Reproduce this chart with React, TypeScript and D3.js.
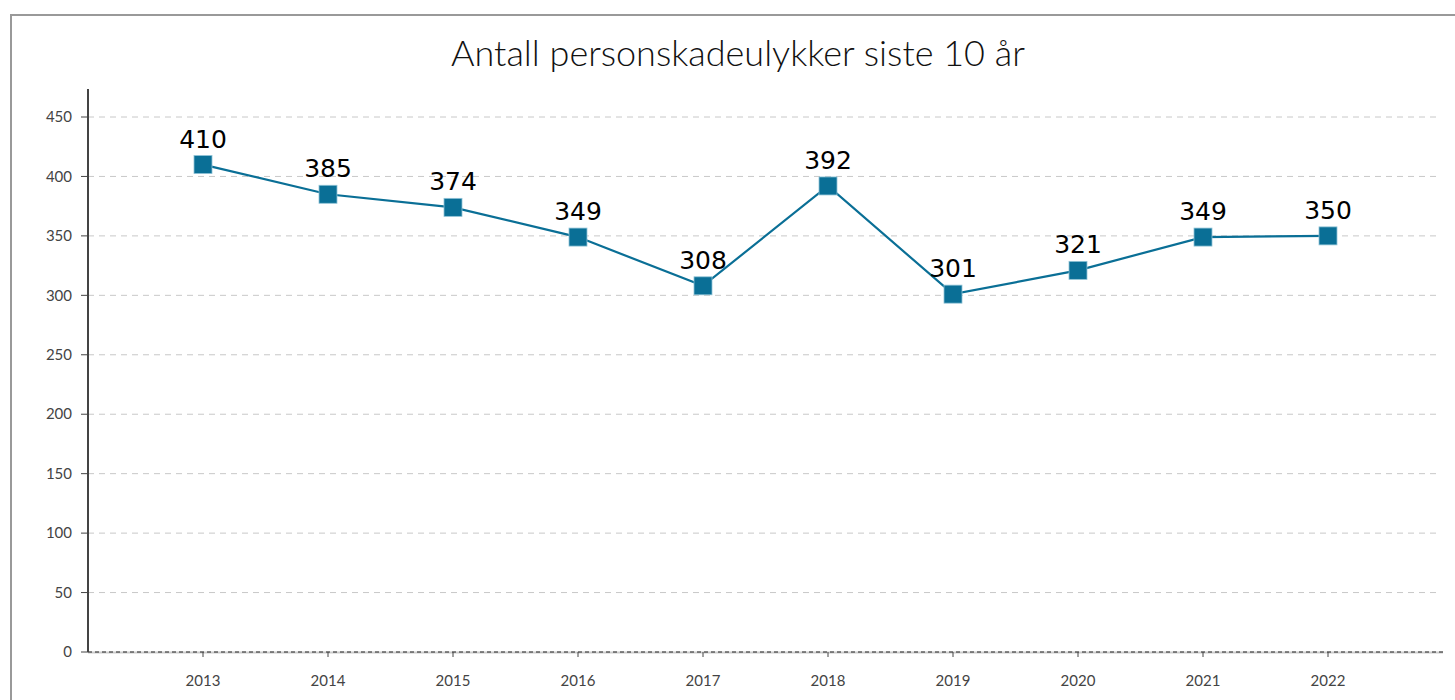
import React from "react";
import * as d3 from "d3";

const years = ["2013", "2014", "2015", "2016", "2017", "2018", "2019", "2020", "2021", "2022"];
const accidents = [410, 385, 374, 349, 308, 392, 301, 321, 349, 350];
const yTicks = [0, 50, 100, 150, 200, 250, 300, 350, 400, 450];
const title = "Antall personskadeulykker siste 10 år";

export default function App() {
  const W = 1455, H = 700;
  const left = 88, right = 1443, top = 89, bottom = 652;
  const x = d3.scalePoint<string>().domain(years).range([left, right]).padding(0.92);
  const y = d3.scaleLinear().domain([0, 450]).range([bottom, 117]);
  const line = d3.line<number>().x((_, i) => x(years[i])!).y((d) => y(d));
  const color = "#0a6f96";
  return (
    <svg width={W} height={H} style={{ position: "absolute", left: 0, top: 0, background: "#fff" }}>
      <rect x={11} y={15} width={1460} height={700} fill="#fff" stroke="#999" strokeWidth={2} />
      <text x={738} y={66} textAnchor="middle" fontFamily="Lato" fontWeight={300} fontSize={36} fill="#111">
        {title}
      </text>
      {yTicks.map((t) => (
        <g key={t}>
          {t > 0 && (
            <line x1={left} x2={1438} y1={y(t)} y2={y(t)} stroke="#c8c8c8" strokeWidth={1} strokeDasharray="6,5" />
          )}
          <line x1={81} x2={left} y1={y(t)} y2={y(t)} stroke="#444" strokeWidth={1} />
          <text x={72} y={y(t)} dy="0.35em" textAnchor="end" fontFamily="Lato" fontSize={15} fill="#444">
            {t}
          </text>
        </g>
      ))}
      <line x1={left} x2={right} y1={bottom + 0.5} y2={bottom + 0.5} stroke="#ccc" strokeWidth={2} />
      <line x1={left} x2={right} y1={bottom} y2={bottom} stroke="#222" strokeWidth={1} strokeDasharray="4,3" />
      <line x1={left} x2={left} y1={top} y2={bottom} stroke="#444" strokeWidth={2} />
      {years.map((yr) => (
        <g key={yr}>
          <line x1={x(yr)} x2={x(yr)} y1={bottom} y2={bottom + 5} stroke="#444" strokeWidth={1} />
          <text x={x(yr)} y={686} textAnchor="middle" fontFamily="Lato" fontSize={15} fill="#444">
            {yr}
          </text>
        </g>
      ))}
      <path d={line(accidents) || ""} fill="none" stroke={color} strokeWidth={2.2} />
      {accidents.map((v, i) => (
        <g key={years[i]}>
          <rect
            x={x(years[i])! - 9}
            y={y(v) - 9}
            width={18}
            height={18}
            fill={color}
            stroke="#8fc3d6"
            strokeWidth={0.8}
          />
          <text
            x={x(years[i])!}
            y={y(v) - 17}
            textAnchor="middle"
            fontFamily="DejaVu Sans"
            fontSize={25}
            fill="#000"
          >
            {v}
          </text>
        </g>
      ))}
    </svg>
  );
}
